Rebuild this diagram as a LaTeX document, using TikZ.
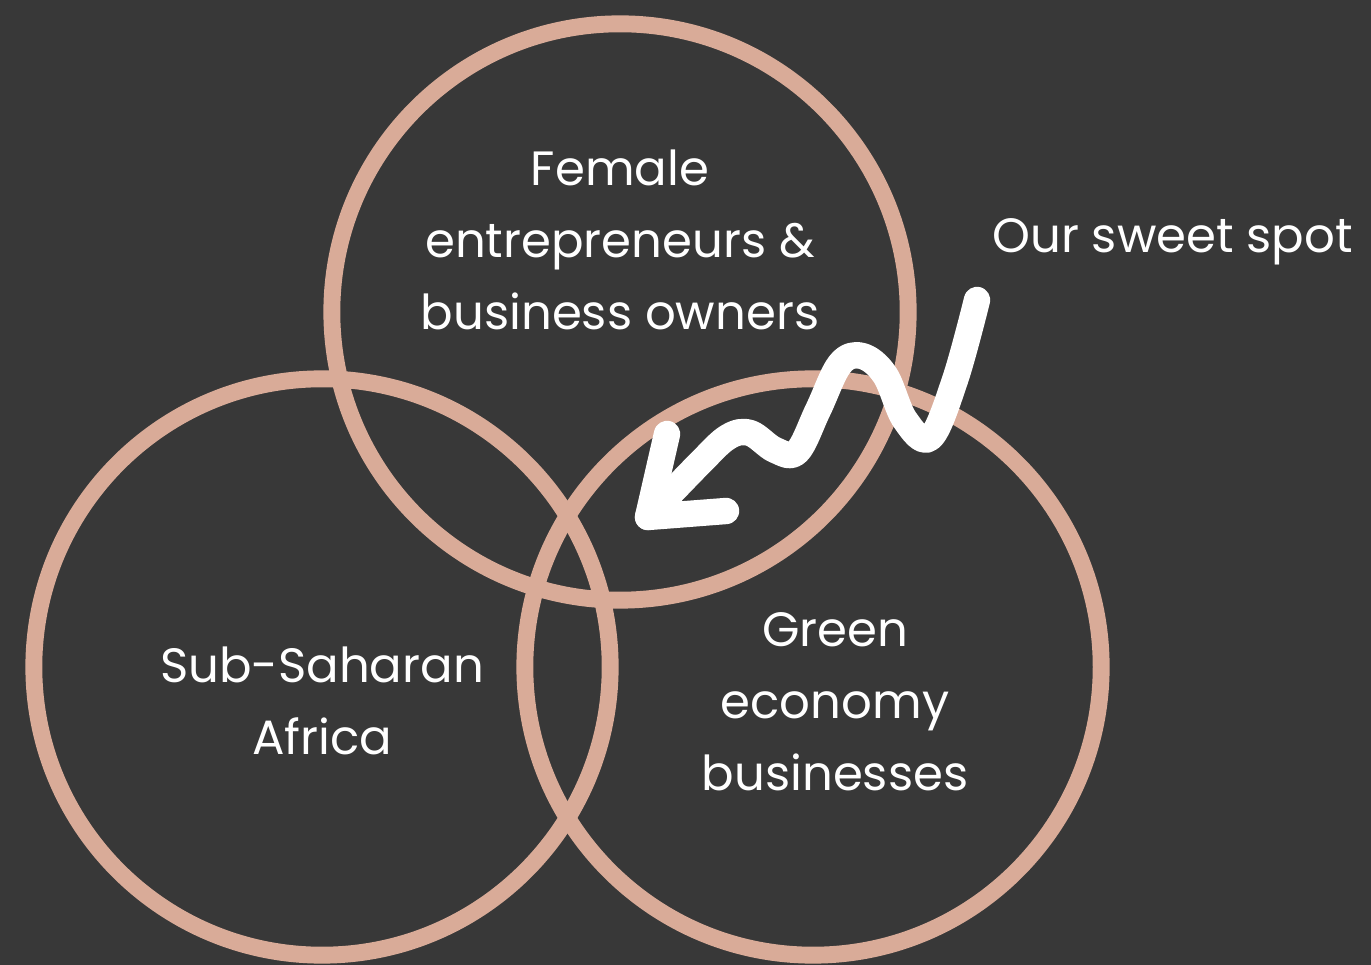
\documentclass[tikz,border=0pt]{standalone}
\usepackage{fontspec}
\setmainfont{Poppins}
\usepackage{xcolor}
\usetikzlibrary{positioning,calc}
\definecolor{bgdark}{HTML}{383838}
\definecolor{ringtan}{HTML}{D9AB98}

\begin{document}
\begin{tikzpicture}[x=0.01cm,y=-0.01cm,
    ring/.style={draw=ringtan, line width=4.8pt, circle, minimum size=5.76cm, inner sep=0pt},
    label text/.style={text=white, align=center, font=\fontsize{13.7}{20.5}\selectfont},
    scribble/.style={draw=white, line width=7.5pt, line cap=round, line join=round}]
    % background and frame
    \fill[bgdark] (0,0) rectangle (1371,965);
    \useasboundingbox (0,0) rectangle (1371,965);

    % the three circles
    \node[ring] (female) at (620,312) {};
    \node[ring] (africa) at (322,667) {};
    \node[ring] (green) at (813,667) {};

    % texts
    \node[label text] (femaletext) at (620,240) {Female\\entrepreneurs \&\\business owners};
    \node[label text] (africatext) at (322,701) {Sub-Saharan\\Africa};
    \node[label text] (greentext) at (835,702) {Green\\economy\\businesses};
    \node[label text, anchor=west] (sweet) at (980,242) {Our sweet spot};

    % hand drawn arrow
    \coordinate (start) at (977,300);
    \coordinate (tip) at (648,517);
    \draw[scribble] plot[smooth, tension=0.6] coordinates {(start) (955,380) (930,438) (905,420) (885,375) (862,356) (840,364) (818,410) (797,452) (775,450) (750,433) (728,437) (700,463) (tip)};
    \draw[scribble] (667,434) -- (tip) -- (726,511);
\end{tikzpicture}
\end{document}
